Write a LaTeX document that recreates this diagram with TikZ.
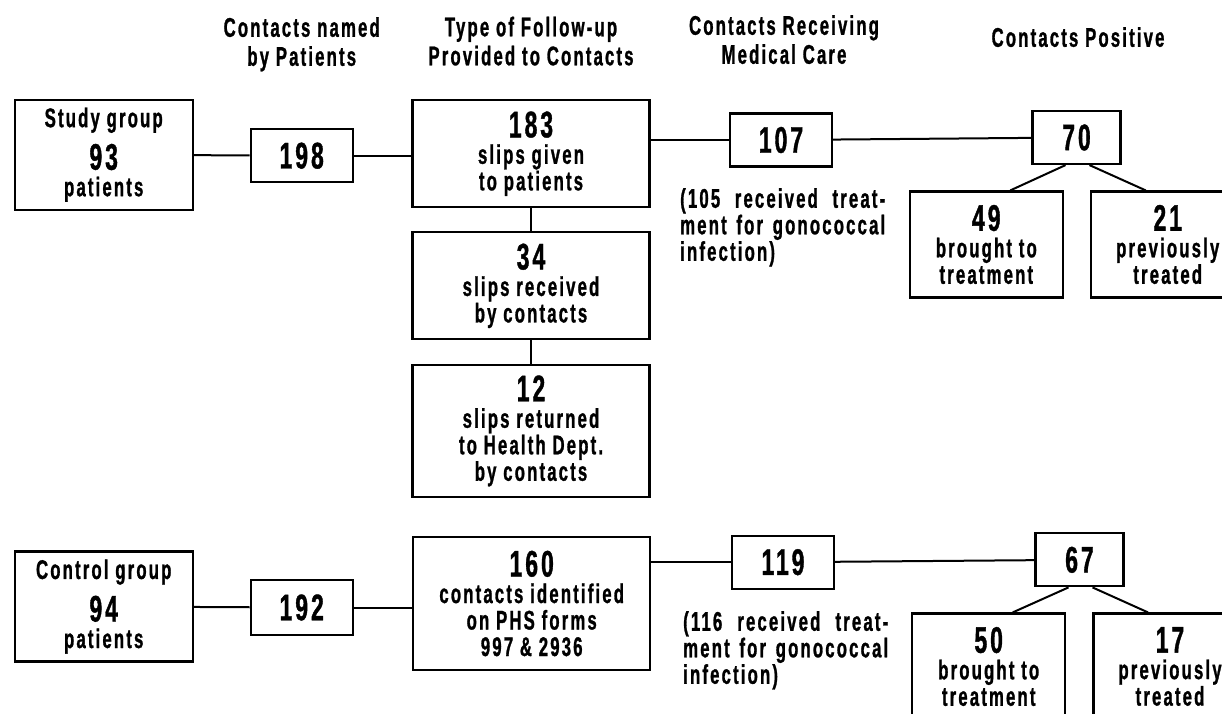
\documentclass[tikz,border=0pt]{standalone}
\usepackage{fontspec}
\setmainfont{Liberation Sans}[FakeStretch=0.62,LetterSpace=8,FakeBold=1]
\newcommand{\bigNum}[1]{{\fontsize{37}{26.5}\selectfont #1}}
\newcommand{\positiveSplit}[3]{%%
  %% Split the positive contacts into two boxes.
  \draw[lineStyle] ([xshift=-11pt]#1.south) -- ([xshift=24pt]#2.north);
  \draw[lineStyle] ([xshift=13pt]#1.south) -- ([xshift=-22pt]#3.north);
}

\begin{document}
\begin{tikzpicture}[%%
  x=1pt,y=-1pt,%%
  boxStyle/.style={draw,line width=2.2pt,align=center,inner sep=0pt,font=\bfseries\fontsize{27}{26.5}\selectfont},%%
  groupBox/.style={boxStyle,minimum width=178pt,minimum height=110pt},%%
  smallBox/.style={boxStyle,minimum width=102pt,minimum height=53pt},%%
  wideBox/.style={boxStyle,minimum width=237pt,minimum height=107pt},%%
  splitBox/.style={boxStyle,minimum width=153pt,minimum height=106pt},%%
  headStyle/.style={anchor=north,align=center,inner sep=0pt,font=\bfseries\fontsize{27}{29}\selectfont},%%
  noteStyle/.style={anchor=north west,inner sep=0pt,text width=205pt,align=justify,font=\bfseries\fontsize{27}{26.5}\selectfont},%%
  lineStyle/.style={line width=2pt}
]
%%
%%
\pgfmathsetmacro{\xgroup}{103.7}
\pgfmathsetmacro{\xnamed}{301.7}
\pgfmathsetmacro{\xtype}{531}
\pgfmathsetmacro{\xcare}{782}
\pgfmathsetmacro{\xpositive}{1078}
\pgfmathsetmacro{\ystudy}{154.7}
\pgfmathsetmacro{\ycontrol}{606.5}
\useasboundingbox (0,0) rectangle (1222,713);
\clip (0,0) rectangle (1222,713);
%%
%%
%% Column headings.
\node[headStyle] (hnamed) at (\xnamed,17) {Contacts named\\by Patients};
\node[headStyle] (htype) at (\xtype,16.5) {Type of Follow-up\\Provided to Contacts};
\node[headStyle] (hcare) at (\xcare+2,15) {Contacts Receiving\\Medical Care};
\node[headStyle] (hpositive) at (\xpositive,27) {Contacts Positive};
%% The study group.
\node[groupBox] (study) at (\xgroup,\ystudy) {Study group\\[10pt]\bigNum{93}\\patients};
\node[smallBox] (n198) at (\xnamed,\ystudy+1) {\bigNum{198}};
\node[wideBox] (n183) at (\xtype,153.7) {\bigNum{183}\\slips given\\to patients};
\node[wideBox] (n34) at (\xtype,285.8) {\bigNum{34}\\slips received\\by contacts};
\node[wideBox,minimum height=132pt] (n12) at (\xtype,430.9) {\bigNum{12}\\slips returned\\to Health Dept.\\by contacts};
\node[smallBox] (n107) at (\xcare-1,140) {\bigNum{107}};
\node[noteStyle] (note105) at (680,188) {(105 received treat-\linebreak ment for gonococcal\linebreak infection)};
\node[smallBox,minimum width=88pt] (n70) at (\xpositive-1.5,137.5) {\bigNum{70}};
\node[splitBox] (n49) at (986.3,244.5) {\bigNum{49}\\brought to\\treatment};
\node[splitBox] (n21) at (1167.7,244.5) {\bigNum{21}\\previously\\treated};
\draw[lineStyle] (study) -- (n198);
\draw[lineStyle] (n198.east) -- (n183.west |- n198.east);
\draw[lineStyle] (n183.east |- n107.west) -- (n107.west);
\draw[lineStyle] (n107) -- (n70);
\draw[lineStyle] (n183) -- (n34);
\draw[lineStyle] (n34) -- (n12);
\positiveSplit{n70}{n49}{n21}
%% The control group.
\node[groupBox] (control) at (\xgroup,\ycontrol) {Control group\\[10pt]\bigNum{94}\\patients};
\node[smallBox,minimum height=55pt] (n192) at (\xnamed,\ycontrol+1) {\bigNum{192}};
\node[wideBox,minimum height=133pt] (n160) at (\xtype+0.7,603.5) {\bigNum{160}\\contacts identified\\on PHS forms\\997 \& 2936};
\node[smallBox] (n119) at (\xcare+1,562.2) {\bigNum{119}};
\node[noteStyle] (note116) at (683,611) {(116 received treat-\linebreak ment for gonococcal\linebreak infection)};
\node[smallBox,minimum width=88pt] (n67) at (\xpositive+1.5,559.8) {\bigNum{67}};
\node[splitBox] (n50) at (988.7,666.5) {\bigNum{50}\\brought to\\treatment};
\node[splitBox] (n17) at (1170,666.5) {\bigNum{17}\\previously\\treated};
\draw[lineStyle] (control) -- (n192);
\draw[lineStyle] (n192.east) -- (n160.west |- n192.east);
\draw[lineStyle] (n160.east |- n119.west) -- (n119.west);
\draw[lineStyle] (n119) -- (n67);
\positiveSplit{n67}{n50}{n17}
\end{tikzpicture}
\end{document}
